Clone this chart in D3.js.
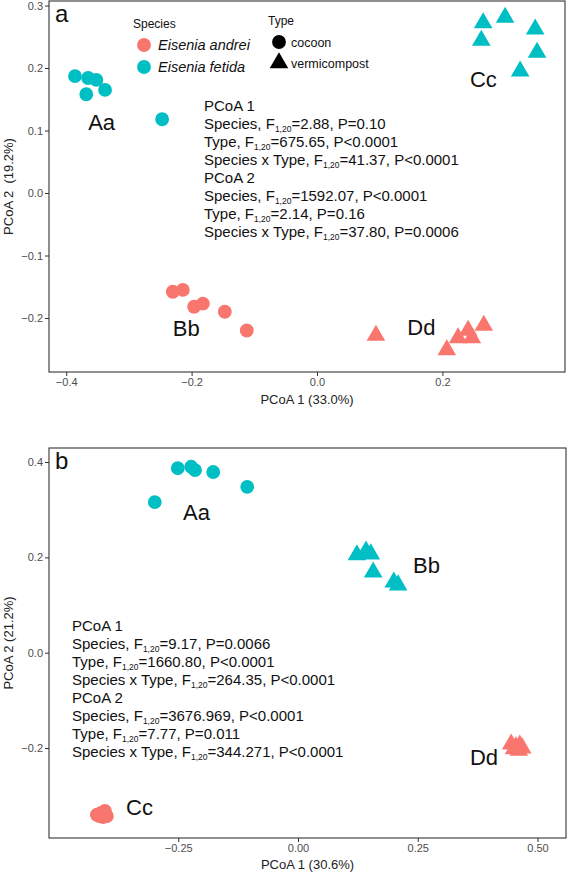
<!DOCTYPE html>
<html><head><meta charset="utf-8">
<script src="https://cdn.jsdelivr.net/npm/d3@7"></script>
<style>body{margin:0;background:#fff}svg{display:block}text{font-family:"Liberation Sans",Arial,Helvetica,sans-serif}</style>
</head><body><div id="c"></div>
<script>
// ---- data: panel a ----
const groupsA = ["Aa","Bb","Cc","Dd"];
const speciesA = ["Eisenia fetida","Eisenia andrei","Eisenia fetida","Eisenia andrei"];
const typeA = ["cocoon","cocoon","vermicompost","vermicompost"];
const pcoa1A = [
  [-0.386,-0.365,-0.352,-0.338,-0.368,-0.247],
  [-0.230,-0.214,-0.196,-0.182,-0.147,-0.112],
  [0.265,0.300,0.348,0.262,0.351,0.324],
  [0.094,0.207,0.225,0.241,0.247,0.266]
];
const pcoa2A = [
  [0.187,0.184,0.181,0.165,0.158,0.118],
  [-0.158,-0.155,-0.182,-0.177,-0.190,-0.220],
  [0.272,0.281,0.262,0.244,0.225,0.195],
  [-0.228,-0.251,-0.232,-0.220,-0.232,-0.212]
];
const labelXA = [-0.365,-0.230,0.244,0.144];
const labelYA = [0.101,-0.228,0.169,-0.227];
const xTicksA = [-0.4,-0.2,0.0,0.2];
const yTicksA = [0.3,0.2,0.1,0.0,-0.1,-0.2];
const statsA = [
  ["PCoA 1"],
  ["Species, F","1,20","=2.88, P=0.10"],
  ["Type, F","1,20","=675.65, P<0.0001"],
  ["Species x Type, F","1,20","=41.37, P<0.0001"],
  ["PCoA 2"],
  ["Species, F","1,20","=1592.07, P<0.0001"],
  ["Type, F","1,20","=2.14, P=0.16"],
  ["Species x Type, F","1,20","=37.80, P=0.0006"]
];
// ---- data: panel b ----
const groupsB = ["Aa","Bb","Cc","Dd"];
const speciesB = ["Eisenia fetida","Eisenia fetida","Eisenia andrei","Eisenia andrei"];
const typeB = ["cocoon","vermicompost","cocoon","vermicompost"];
const pcoa1B = [
  [-0.251,-0.223,-0.215,-0.177,-0.106,-0.299],
  [0.123,0.142,0.152,0.157,0.200,0.209],
  [-0.420,-0.411,-0.403,-0.399,-0.407,-0.415],
  [0.445,0.455,0.461,0.468,0.451,0.463]
];
const pcoa2B = [
  [0.387,0.390,0.383,0.379,0.348,0.316],
  [0.205,0.213,0.207,0.169,0.148,0.142],
  [-0.340,-0.336,-0.332,-0.343,-0.345,-0.343],
  [-0.192,-0.198,-0.205,-0.200,-0.202,-0.194]
];
const labelXB = [-0.240,0.240,-0.359,0.359];
const labelYB = [0.278,0.167,-0.340,-0.236];
const xTicksB = [-0.25,0.00,0.25,0.50];
const yTicksB = [0.4,0.2,0.0,-0.2];
const statsB = [
  ["PCoA 1"],
  ["Species, F","1,20","=9.17, P=0.0066"],
  ["Type, F","1,20","=1660.80, P<0.0001"],
  ["Species x Type, F","1,20","=264.35, P<0.0001"],
  ["PCoA 2"],
  ["Species, F","1,20","=3676.969, P<0.0001"],
  ["Type, F","1,20","=7.77, P=0.011"],
  ["Species x Type, F","1,20","=344.271, P<0.0001"]
];
const speciesNames = ["Eisenia andrei","Eisenia fetida"];
const speciesColors = ["#F8766D","#00BFC4"];
const typeNames = ["cocoon","vermicompost"];

const W = 567, H = 872;
const svg = d3.select("#c").append("svg").attr("width",W).attr("height",H);
const color = d3.scaleOrdinal().domain(speciesNames).range(speciesColors);
const shape = d3.scaleOrdinal().domain(typeNames).range([d3.symbolCircle,d3.symbolTriangle]);
const symSize = {cocoon:150, vermicompost:150};

function panel(o){
  const x = d3.scaleLinear().domain(o.xd).range([o.l,o.r]);
  const y = d3.scaleLinear().domain(o.yd).range([o.b,o.t]);
  const g = svg.append("g");
  const ax = g.append("g").attr("transform",`translate(0,${o.b})`)
    .call(d3.axisBottom(x).tickValues(o.xt).tickFormat(d3.format(o.xf)).tickSize(4).tickPadding(2));
  const ay = g.append("g").attr("transform",`translate(${o.l},0)`)
    .call(d3.axisLeft(y).tickValues(o.yt).tickFormat(d3.format(o.yf)).tickSize(4).tickPadding(2));
  [ax,ay].forEach(a=>{
    a.select(".domain").remove();
    a.selectAll(".tick line").attr("stroke","#333");
    a.selectAll(".tick text").attr("fill","#4d4d4d").style("font-size","11px");
  });
  g.append("rect").attr("x",o.l).attr("y",o.t).attr("width",o.r-o.l).attr("height",o.b-o.t)
    .attr("fill","none").attr("stroke","#333").attr("stroke-width",1.1);
  g.append("text").attr("x",(o.l+o.r)/2).attr("y",o.b+o.xtOff).attr("text-anchor","middle")
    .style("font-size","13px").attr("fill","#222").text(o.xTitle);
  g.append("text").attr("transform",`translate(${o.l-36},${(o.t+o.b)/2}) rotate(-90)`)
    .attr("text-anchor","middle").style("font-size","13px").attr("fill","#222").style("white-space","pre").text(o.yTitle);
  o.groups.forEach((gr,i)=>{
    const pts = o.p1[i].map((v,j)=>[v,o.p2[i][j]]);
    g.selectAll(null).data(pts).enter().append("path")
      .attr("transform",d=>`translate(${x(d[0])},${y(d[1])})`)
      .attr("d",d3.symbol().type(shape(o.type[i])).size(symSize[o.type[i]]))
      .attr("fill",color(o.species[i]));
    g.append("text").attr("x",x(o.lx[i])).attr("y",y(o.ly[i]))
      .style("font-size","22px").attr("fill","#111").text(gr);
  });
  g.append("text").attr("x",o.l+6).attr("y",o.t+21).style("font-size","24px").attr("fill","#111").text(o.letter);
  o.stats.forEach((s,i)=>{
    const t = g.append("text").attr("x",o.sx).attr("y",o.sy+i*18).style("font-size","15px").attr("fill","#111");
    t.append("tspan").text(s[0]);
    if(s.length>1){
      t.append("tspan").attr("dy",3).style("font-size","8.5px").text(s[1]);
      t.append("tspan").attr("dy",-3).text(s[2]);
    }
  });
}

panel({letter:"a",l:49,r:565,t:1,b:372,xtOff:32,
  xd:[(49-317)/627,(565-317)/627],yd:[(193-372)/625,(193-1)/625],
  xt:xTicksA,yt:yTicksA,xf:".1f",yf:".1f",
  xTitle:"PCoA 1 (33.0%)",yTitle:"PCoA 2  (19.2%)",
  groups:groupsA,species:speciesA,type:typeA,p1:pcoa1A,p2:pcoa2A,lx:labelXA,ly:labelYA,
  stats:statsA,sx:204,sy:111});
panel({letter:"b",l:49,r:566,t:448,b:838,xtOff:31,
  xd:[(49-298)/479,(566-298)/479],yd:[(652.7-838)/476.7,(652.7-448)/476.7],
  xt:xTicksB,yt:yTicksB,xf:".2f",yf:".1f",
  xTitle:"PCoA 1 (30.6%)",yTitle:"PCoA 2 (21.2%)",
  groups:groupsB,species:speciesB,type:typeB,p1:pcoa1B,p2:pcoa2B,lx:labelXB,ly:labelYB,
  stats:statsB,sx:72,sy:631});

// legend (panel a)
const lg = svg.append("g");
lg.append("text").attr("x",133).attr("y",28).style("font-size","12px").attr("fill","#111").text("Species");
speciesNames.forEach((s,i)=>{
  lg.append("path").attr("transform",`translate(144,${45+i*22})`)
    .attr("d",d3.symbol().type(d3.symbolCircle).size(150)).attr("fill",color(s));
  lg.append("text").attr("x",158).attr("y",50+i*22).style("font-size","14.5px").style("font-style","italic")
    .attr("fill","#111").text(s);
});
lg.append("text").attr("x",268).attr("y",25).style("font-size","12px").attr("fill","#111").text("Type");
typeNames.forEach((s,i)=>{
  lg.append("path").attr("transform",`translate(279,${42+i*21})`)
    .attr("d",d3.symbol().type(shape(s)).size(150)).attr("fill","#000");
  lg.append("text").attr("x",291).attr("y",47+i*21).style("font-size","12.5px").attr("fill","#111").text(s);
});
</script></body></html>
